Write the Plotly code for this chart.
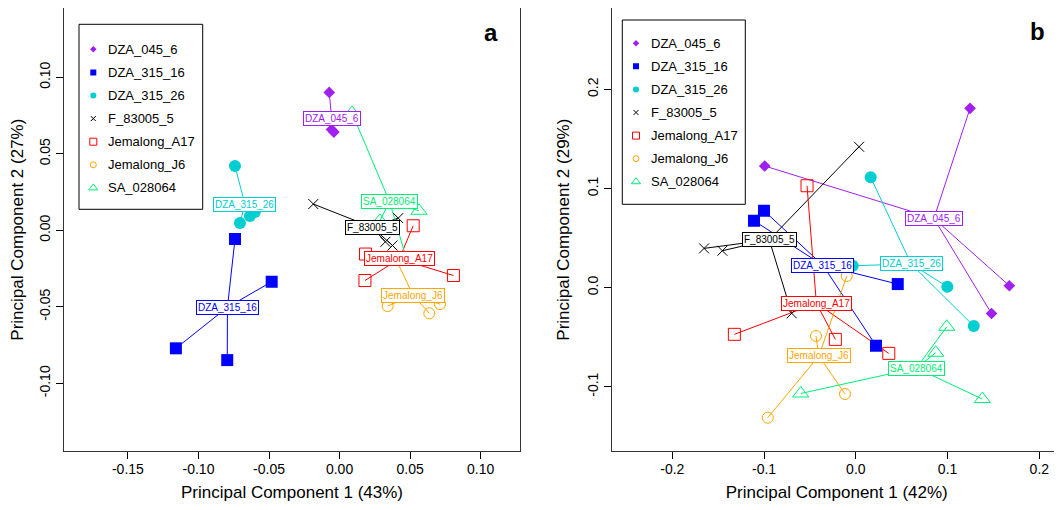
import numpy as np
import plotly.graph_objects as go

groups = ["DZA_045_6", "DZA_315_16", "DZA_315_26", "F_83005_5",
          "Jemalong_A17", "Jemalong_J6", "SA_028064"]

# ---------------- Panel a : PC1 (43%) / PC2 (27%) ----------------
a_DZA_045_6_pc1 = [-0.0073, -0.0057, -0.0040]
a_DZA_045_6_pc2 = [0.0901, 0.0659, 0.0642]
a_DZA_315_16_pc1 = [-0.0741, -0.0481, -0.1160, -0.0796]
a_DZA_315_16_pc2 = [-0.0057, -0.0336, -0.0771, -0.0848]
a_DZA_315_26_pc1 = [-0.0741, -0.0706, -0.0635, -0.0600]
a_DZA_315_26_pc2 = [0.0420, 0.0048, 0.0093, 0.0120]
a_F_83005_5_pc1 = [-0.0186, 0.0416, 0.0325, 0.0375]
a_F_83005_5_pc2 = [0.0172, 0.0080, -0.0075, -0.0099]
a_Jemalong_A17_pc1 = [0.0522, 0.0184, 0.0180, 0.0807]
a_Jemalong_A17_pc2 = [0.0030, -0.0155, -0.0328, -0.0295]
a_Jemalong_J6_pc1 = [0.0393, 0.0341, 0.0636, 0.0712]
a_Jemalong_J6_pc2 = [-0.0175, -0.0495, -0.0542, -0.0482]
a_SA_028064_pc1 = [0.0088, 0.0563, 0.0286, 0.0481]
a_SA_028064_pc2 = [0.0768, 0.0128, 0.0062, -0.0206]

# ---------------- Panel b : PC1 (42%) / PC2 (29%) ----------------
b_DZA_045_6_pc1 = [-0.0993, 0.1245, 0.1673, 0.1479]
b_DZA_045_6_pc2 = [0.1227, 0.1809, 0.0019, -0.0261]
b_DZA_315_16_pc1 = [-0.1110, -0.1001, 0.0457, 0.0220]
b_DZA_315_16_pc2 = [0.0675, 0.0776, 0.0036, -0.0586]
b_DZA_315_26_pc1 = [0.0162, -0.0034, 0.0997, 0.1285]
b_DZA_315_26_pc2 = [0.1113, 0.0221, 0.0009, -0.0387]
b_F_83005_5_pc1 = [0.0035, -0.1654, -0.1455, -0.0699]
b_F_83005_5_pc2 = [0.1421, 0.0396, 0.0372, -0.0259]
b_Jemalong_A17_pc1 = [-0.0532, -0.1324, -0.0223, 0.0359]
b_Jemalong_A17_pc2 = [0.1028, -0.0471, -0.0522, -0.0663]
b_Jemalong_J6_pc1 = [-0.0099, -0.0434, -0.0118, -0.0960]
b_Jemalong_J6_pc2 = [0.0117, -0.0488, -0.1073, -0.1312]
b_SA_028064_pc1 = [0.0991, 0.0871, -0.0601, 0.1379]
b_SA_028064_pc2 = [-0.0395, -0.0657, -0.1068, -0.1124]

# ---------------- tick values / labels ----------------
a_xticks = [-0.15, -0.10, -0.05, 0.00, 0.05, 0.10]
a_xtick_labels = ["-0.15", "-0.10", "-0.05", "0.00", "0.05", "0.10"]
a_yticks = [-0.10, -0.05, 0.00, 0.05, 0.10]
a_ytick_labels = ["-0.10", "-0.05", "0.00", "0.05", "0.10"]
b_xticks = [-0.2, -0.1, 0.0, 0.1, 0.2]
b_xtick_labels = ["-0.2", "-0.1", "0.0", "0.1", "0.2"]
b_yticks = [-0.1, 0.0, 0.1, 0.2]
b_ytick_labels = ["-0.1", "0.0", "0.1", "0.2"]

a_xtitle = "Principal Component 1 (43%)"
a_ytitle = "Principal Component 2 (27%)"
b_xtitle = "Principal Component 1 (42%)"
b_ytitle = "Principal Component 2 (29%)"

# ---------------- styles ----------------
FONT = "Liberation Sans, Arial, Helvetica, sans-serif"
OFF = 8                      # page (body) margin of the browser
W, H = 1062 - OFF, 510 - OFF  # figure size so that it ends at the window edge


def fx(p):  # window pixel -> paper x
    return (p - OFF) / W


def fy(p):  # window pixel -> paper y
    return 1 - (p - OFF) / H


colors = ["#A020F0", "#0000FF", "#00CED1", "#000000", "#FF0000", "#FFA500", "#00EE76"]
symbols = ["diamond", "square", "circle", "x-thin-open", "square-open",
           "circle-open", "triangle-up-open"]
sizes = [9, 12, 12, 10, 12, 11, 14]
legend_sizes = [5, 6, 6, 5, 7, 6, 8]

panel_a = [(a_DZA_045_6_pc1, a_DZA_045_6_pc2), (a_DZA_315_16_pc1, a_DZA_315_16_pc2),
           (a_DZA_315_26_pc1, a_DZA_315_26_pc2), (a_F_83005_5_pc1, a_F_83005_5_pc2),
           (a_Jemalong_A17_pc1, a_Jemalong_A17_pc2), (a_Jemalong_J6_pc1, a_Jemalong_J6_pc2),
           (a_SA_028064_pc1, a_SA_028064_pc2)]
panel_b = [(b_DZA_045_6_pc1, b_DZA_045_6_pc2), (b_DZA_315_16_pc1, b_DZA_315_16_pc2),
           (b_DZA_315_26_pc1, b_DZA_315_26_pc2), (b_F_83005_5_pc1, b_F_83005_5_pc2),
           (b_Jemalong_A17_pc1, b_Jemalong_A17_pc2), (b_Jemalong_J6_pc1, b_Jemalong_J6_pc2),
           (b_SA_028064_pc1, b_SA_028064_pc2)]

fig = go.Figure()
annotations = []
shapes = []

for panel, xa, ya in [(panel_a, "x", "y"), (panel_b, "x2", "y2")]:
    cents = []
    for gi, (px, py) in enumerate(panel):
        cx, cy = float(np.mean(px)), float(np.mean(py))
        cents.append((cx, cy))
        lx, ly = [], []
        for xv, yv in zip(px, py):
            lx += [cx, xv, None]
            ly += [cy, yv, None]
        fig.add_trace(go.Scatter(x=lx, y=ly, mode="lines", xaxis=xa, yaxis=ya,
                                 line=dict(color=colors[gi], width=1),
                                 hoverinfo="skip", showlegend=False))
    for gi, (cx, cy) in enumerate(cents):
        annotations.append(dict(x=cx, y=cy, xref=xa, yref=ya, text=groups[gi],
                                showarrow=False, font=dict(size=10, color=colors[gi], family=FONT),
                                bgcolor="white", bordercolor=colors[gi], borderwidth=1,
                                borderpad=1, xanchor="center", yanchor="middle"))
    for gi, (px, py) in enumerate(panel):
        filled = not symbols[gi].endswith("open")
        fig.add_trace(go.Scatter(x=px, y=py, mode="markers", xaxis=xa, yaxis=ya,
                                 name=groups[gi], showlegend=False,
                                 marker=dict(symbol=symbols[gi], size=sizes[gi],
                                             color=colors[gi],
                                             line=dict(color=colors[gi], width=0 if filled else 1))))

# ---------------- manual legends (overlay axes in window-pixel units) ----------------
legend_specs = [
    ("x3", "y3", (79, 24.3, 202.7, 209.3), 93.3, 105.5, 49.3, 23.1),
    ("x4", "y4", (622.3, 20.0, 745.3, 204.3), 636.0, 648.5, 43.3, 23.07),
]
for xa, ya, box, sx, tx, r0, step in legend_specs:
    shapes.append(dict(type="rect", xref=xa, yref=ya, x0=box[0], y0=box[1], x1=box[2], y1=box[3],
                       line=dict(color="black", width=1)))
    for gi, g in enumerate(groups):
        ry = r0 + gi * step
        filled = not symbols[gi].endswith("open")
        fig.add_trace(go.Scatter(x=[sx], y=[ry], mode="markers", xaxis=xa, yaxis=ya,
                                 showlegend=False, hoverinfo="skip",
                                 marker=dict(symbol=symbols[gi], size=legend_sizes[gi],
                                             color=colors[gi],
                                             line=dict(color=colors[gi], width=0 if filled else 1))))
        annotations.append(dict(x=tx, y=ry, xref=xa, yref=ya, text=g, showarrow=False,
                                xanchor="left", yanchor="middle",
                                font=dict(size=13, color="black", family=FONT)))

annotations.append(dict(x=fx(490.5), y=fy(33), xref="paper", yref="paper", text="<b>a</b>",
                        showarrow=False, xanchor="center", yanchor="middle",
                        font=dict(size=24, color="black", family=FONT)))
annotations.append(dict(x=fx(1037.5), y=fy(32), xref="paper", yref="paper", text="<b>b</b>",
                        showarrow=False, xanchor="center", yanchor="middle",
                        font=dict(size=24, color="black", family=FONT)))

common = dict(showgrid=False, zeroline=False, showline=True, linecolor="#333333", linewidth=1,
              ticks="outside", ticklen=7, tickwidth=1, tickcolor="black",
              tickfont=dict(size=14, color="black", family=FONT))
ydom = [fy(451), fy(8.3)]
title_font = dict(size=17, color="black", family=FONT)

fig.update_layout(
    width=W, height=H, margin=dict(l=0, r=0, t=0, b=0),
    paper_bgcolor="white", plot_bgcolor="white", showlegend=False,
    font=dict(family=FONT, color="black"),
    xaxis=dict(domain=[fx(64), fx(520)], range=[-0.1953, 0.1279], anchor="y", mirror=True,
               tickvals=a_xticks, ticktext=a_xtick_labels, ticklabelstandoff=-2,
               title=dict(text=a_xtitle, font=title_font, standoff=10), **common),
    yaxis=dict(domain=ydom, range=[-0.1442, 0.1451], anchor="x", mirror=True,
               tickvals=a_yticks, ticktext=a_ytick_labels, tickangle=-90,
               title=dict(text=a_ytitle, font=title_font, standoff=10), **common),
    xaxis2=dict(domain=[fx(611.5), 1.0], range=[-0.2663, 0.2247], anchor="y2", mirror=True,
                tickvals=b_xticks, ticktext=b_xtick_labels, ticklabelstandoff=-2,
                title=dict(text=b_xtitle, font=title_font, standoff=10), **common),
    yaxis2=dict(domain=ydom, range=[-0.1648, 0.2818], anchor="x2", mirror=False,
                tickvals=b_yticks, ticktext=b_ytick_labels, tickangle=-90,
                title=dict(text=b_ytitle, font=title_font, standoff=10), **common),
    xaxis3=dict(overlaying="x", anchor="y3", range=[64, 520], visible=False),
    yaxis3=dict(overlaying="y", anchor="x3", range=[451, 8.3], visible=False),
    xaxis4=dict(overlaying="x2", anchor="y4", range=[611.5, 1062], visible=False),
    yaxis4=dict(overlaying="y2", anchor="x4", range=[451, 8.3], visible=False),
    annotations=annotations, shapes=shapes,
)

fig.write_html("out.html")
